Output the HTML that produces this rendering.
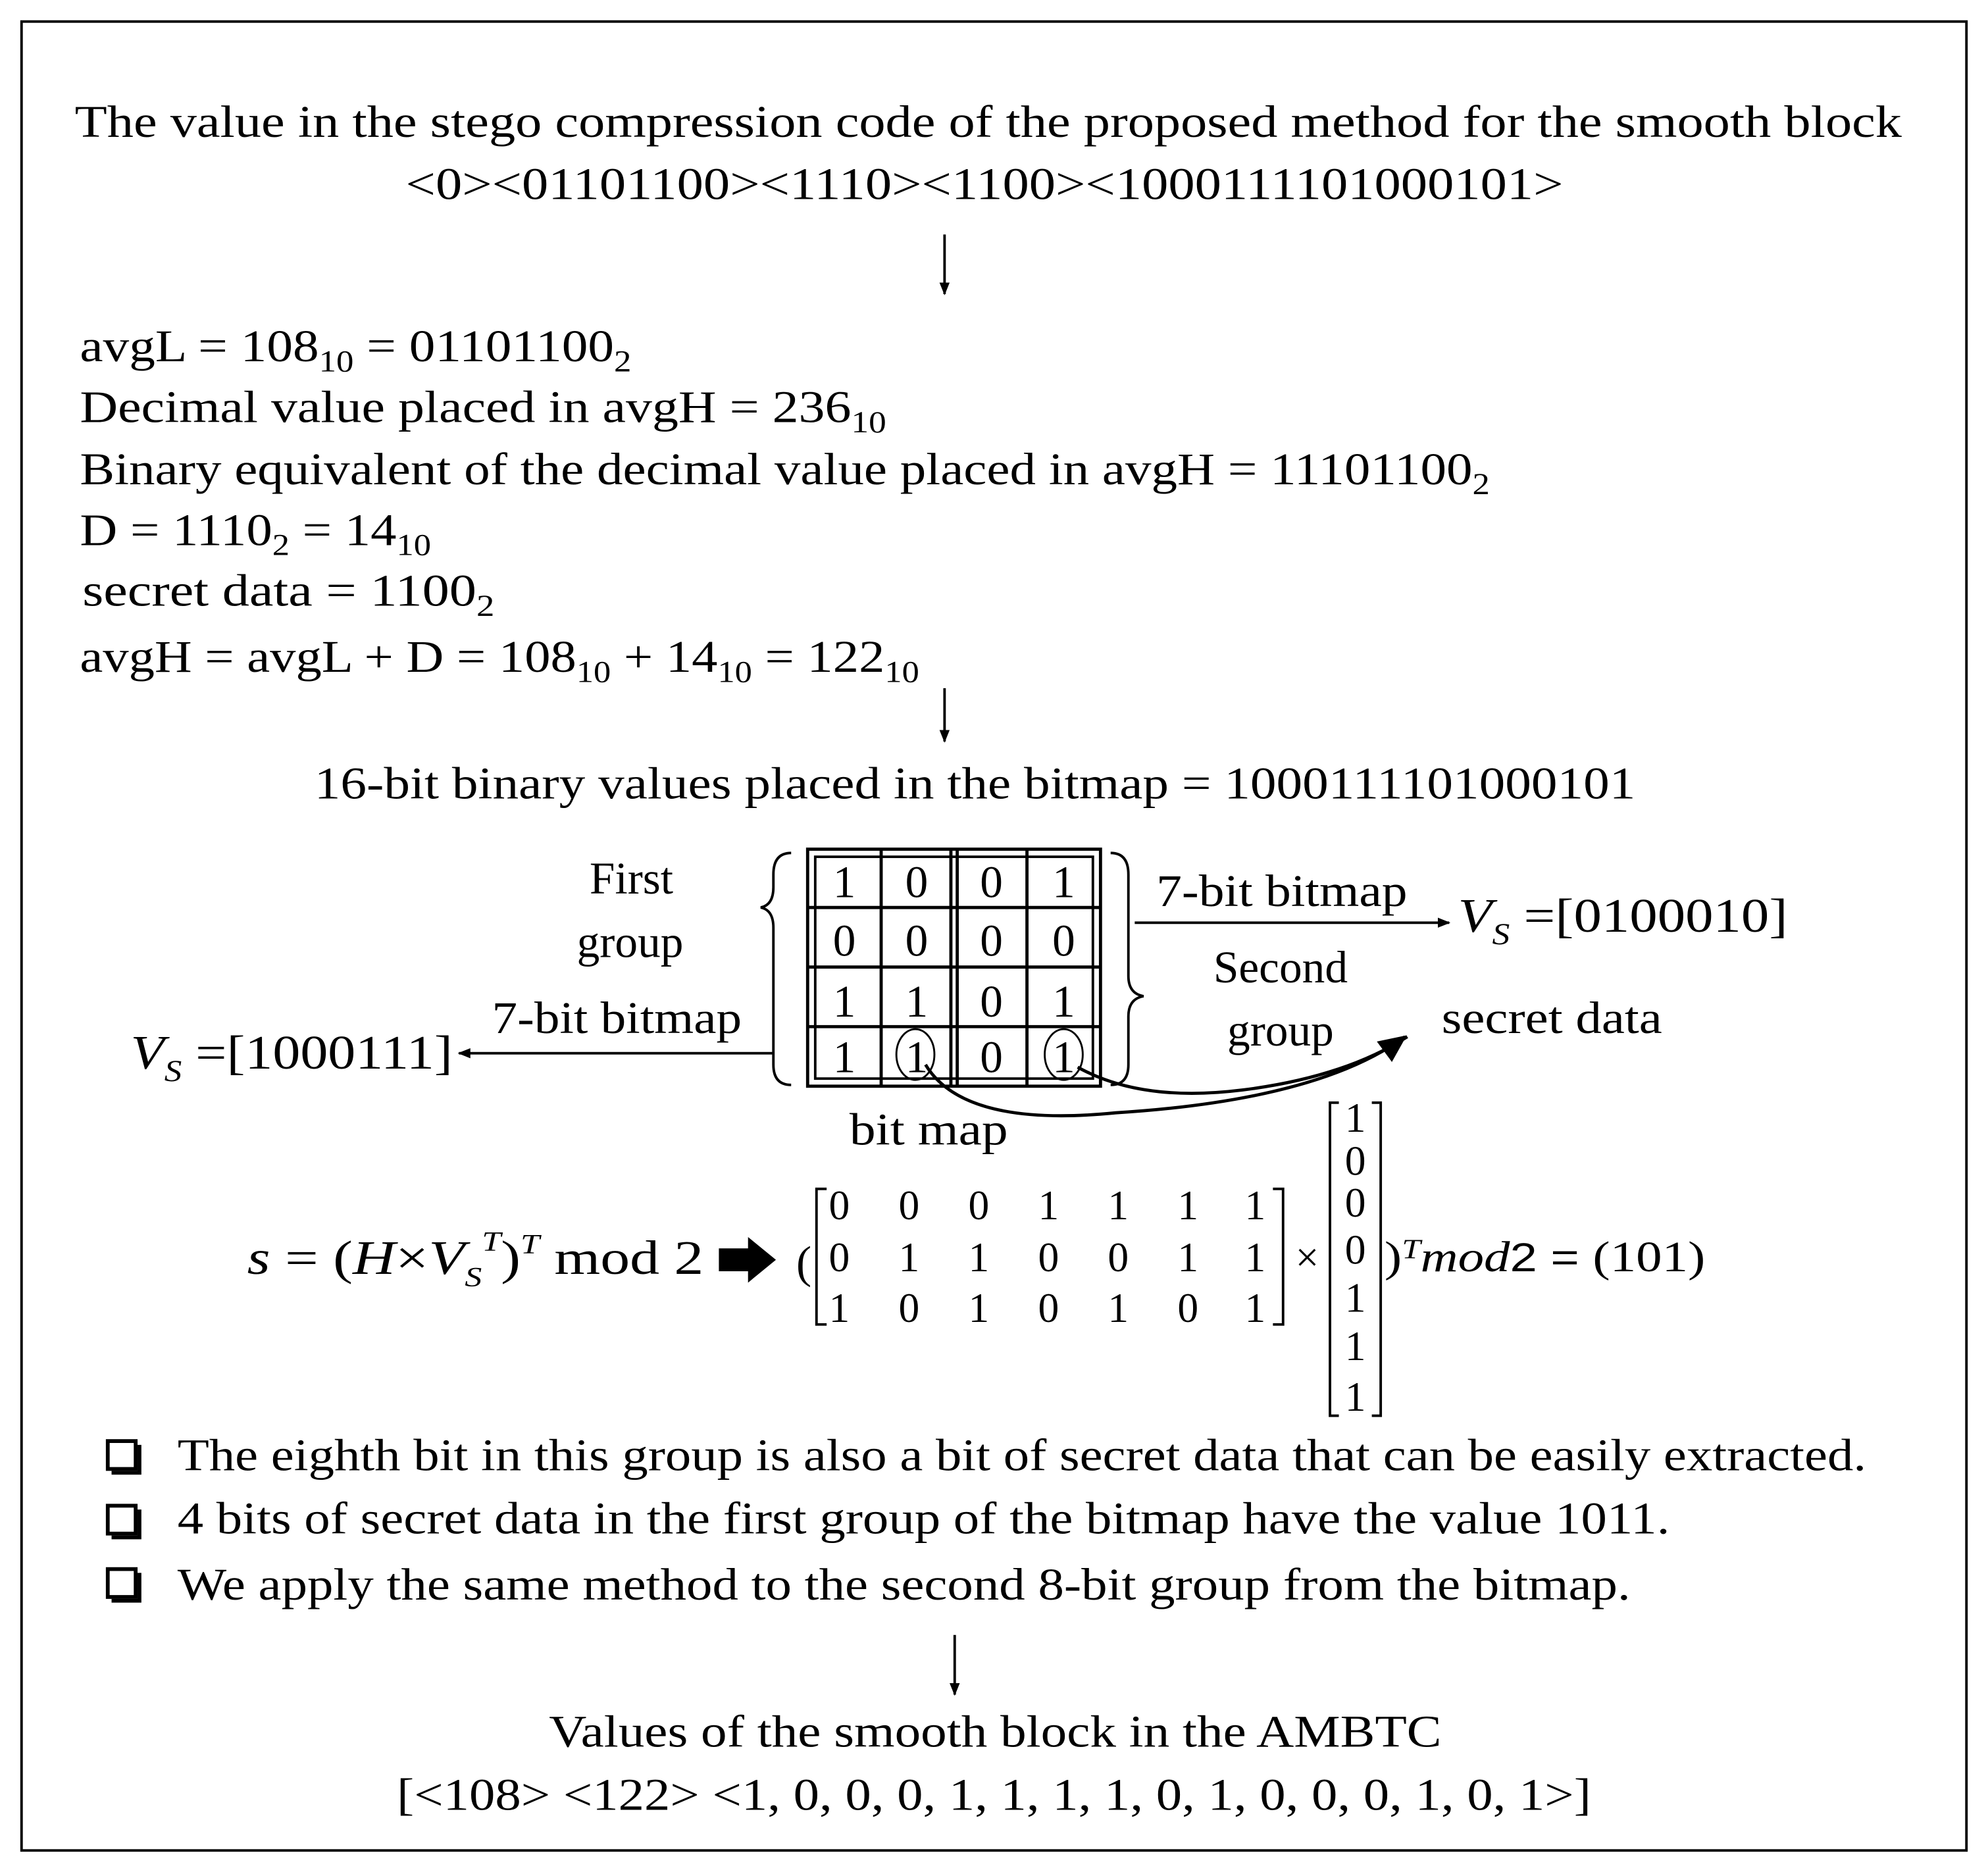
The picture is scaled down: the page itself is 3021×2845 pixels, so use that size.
<!DOCTYPE html>
<html><head><meta charset="utf-8"><style>html,body{margin:0;padding:0;background:#fff}svg{display:block}</style></head><body>
<svg width="3021" height="2845" viewBox="0 0 1568 1477" preserveAspectRatio="none" xmlns="http://www.w3.org/2000/svg" font-family="Liberation Serif, serif" font-size="36" fill="#000">
<defs><marker id="a" markerWidth="10" markerHeight="10" refX="9" refY="5" orient="auto" markerUnits="userSpaceOnUse"><path d="M0,1 L10,5 L0,9 z"/></marker>
<marker id="b" markerWidth="24" markerHeight="24" refX="20" refY="12" orient="auto" markerUnits="userSpaceOnUse"><path d="M0,2 L22,12 L0,22 z"/></marker></defs>
<rect x="17" y="17" width="1534" height="1443" fill="none" stroke="#000" stroke-width="2"/>
<text x="59" y="108" textLength="1441" lengthAdjust="spacingAndGlyphs">The value in the stego compression code of the proposed method for the smooth block</text>
<text x="320" y="157" textLength="913" lengthAdjust="spacingAndGlyphs">&lt;0&gt;&lt;01101100&gt;&lt;1110&gt;&lt;1100&gt;&lt;1000111101000101&gt;</text>
<line x1="745" y1="185" x2="745" y2="232" stroke="#000" stroke-width="2" marker-end="url(#a)"/>
<g font-size="36">
<text x="63" y="285" textLength="435" lengthAdjust="spacingAndGlyphs">avgL = 108<tspan font-size="24" dy="8">10</tspan><tspan dy="-8"> = 01101100</tspan><tspan font-size="24" dy="8">2</tspan></text>
<text x="63" y="333" textLength="636" lengthAdjust="spacingAndGlyphs">Decimal value placed in avgH  = 236<tspan font-size="24" dy="8">10</tspan></text>
<text x="63" y="382" textLength="1112" lengthAdjust="spacingAndGlyphs">Binary equivalent of the decimal value placed in avgH = 11101100<tspan font-size="24" dy="8">2</tspan></text>
<text x="63" y="430" textLength="277" lengthAdjust="spacingAndGlyphs">D = 1110<tspan font-size="24" dy="8">2</tspan><tspan dy="-8"> = 14</tspan><tspan font-size="24" dy="8">10</tspan></text>
<text x="65" y="478" textLength="325" lengthAdjust="spacingAndGlyphs">secret data  = 1100<tspan font-size="24" dy="8">2</tspan></text>
<text x="63" y="530" textLength="662" lengthAdjust="spacingAndGlyphs">avgH = avgL + D = 108<tspan font-size="24" dy="8">10</tspan><tspan dy="-8"> + 14</tspan><tspan font-size="24" dy="8">10</tspan><tspan dy="-8"> = 122</tspan><tspan font-size="24" dy="8">10</tspan></text>
</g>
<line x1="745" y1="543" x2="745" y2="585" stroke="#000" stroke-width="2" marker-end="url(#a)"/>
<text x="248" y="630" textLength="1042" lengthAdjust="spacingAndGlyphs">16-bit binary values placed in the bitmap = 1000111101000101</text>
<g fill="none" stroke="#000" stroke-width="2.5">
<rect x="637" y="670" width="231" height="187"/>
<rect x="643" y="676" width="219" height="175" stroke-width="2"/>
<line x1="695" y1="670" x2="695" y2="857"/><line x1="750" y1="670" x2="750" y2="857"/><line x1="755" y1="670" x2="755" y2="857"/><line x1="810" y1="670" x2="810" y2="857"/>
<line x1="637" y1="716" x2="868" y2="716"/><line x1="637" y1="763" x2="868" y2="763"/><line x1="637" y1="810" x2="868" y2="810"/>
<ellipse cx="722" cy="832" rx="15" ry="20" stroke-width="1.5"/><ellipse cx="839" cy="832" rx="15" ry="20" stroke-width="1.5"/>
<path d="M624,673 Q610,673 610,690 L610,700 Q610,714 600,716 Q610,718 610,732 L610,840 Q610,856 624,856" stroke-width="2"/>
<path d="M876,673 Q890,673 890,690 L890,770 Q890,784 902,786 Q890,788 890,802 L890,840 Q890,856 876,856" stroke-width="2"/>
</g>
<g text-anchor="middle" font-size="36">
<text x="666" y="708">1</text><text x="723" y="708">0</text><text x="782" y="708">0</text><text x="839" y="708">1</text>
<text x="666" y="754">0</text><text x="723" y="754">0</text><text x="782" y="754">0</text><text x="839" y="754">0</text>
<text x="666" y="802">1</text><text x="723" y="802">1</text><text x="782" y="802">0</text><text x="839" y="802">1</text>
<text x="666" y="846">1</text><text x="723" y="846">1</text><text x="782" y="846">0</text><text x="839" y="846">1</text>
<text x="498" y="705">First</text><text x="497" y="755">group</text>
<text x="1010" y="775">Second</text><text x="1010" y="825">group</text>
</g>
<text x="388" y="815" textLength="197" lengthAdjust="spacingAndGlyphs">7-bit bitmap</text>
<line x1="610" y1="831" x2="362" y2="831" stroke="#000" stroke-width="2" marker-end="url(#a)"/>
<text x="103" y="843" font-size="38" textLength="254" lengthAdjust="spacingAndGlyphs"><tspan font-style="italic">V</tspan><tspan font-style="italic" font-size="24" dy="10">S</tspan><tspan dy="-10"> =[1000111]</tspan></text>
<text x="912" y="715" textLength="198" lengthAdjust="spacingAndGlyphs">7-bit bitmap</text>
<line x1="895" y1="728" x2="1143" y2="728" stroke="#000" stroke-width="2" marker-end="url(#a)"/>
<text x="1150" y="735" font-size="38" textLength="260" lengthAdjust="spacingAndGlyphs"><tspan font-style="italic">V</tspan><tspan font-style="italic" font-size="24" dy="10">S</tspan><tspan dy="-10"> =[0100010]</tspan></text>
<text x="1137" y="815" textLength="174" lengthAdjust="spacingAndGlyphs">secret data</text>
<path d="M730,840 Q760,890 880,878 Q1040,868 1108,818" fill="none" stroke="#000" stroke-width="2.5" marker-end="url(#b)"/>
<path d="M850,842 Q900,870 980,860 Q1060,850 1110,818" fill="none" stroke="#000" stroke-width="2.5"/>
<text x="670" y="903" textLength="125" lengthAdjust="spacingAndGlyphs">bit map</text>
<text x="195" y="1005" font-size="38" textLength="360" lengthAdjust="spacingAndGlyphs"><tspan font-style="italic">s</tspan> = (<tspan font-style="italic">H</tspan>×<tspan font-style="italic">V</tspan><tspan font-style="italic" font-size="22" dy="10">S</tspan><tspan font-style="italic" font-size="22" dy="-28">T</tspan><tspan dy="18">)</tspan><tspan font-style="italic" font-size="22" dy="-16">T</tspan><tspan dy="16"> mod  2</tspan></text>
<path d="M567,985 L590,985 L590,976 L612,994 L590,1012 L590,1003 L567,1003 z"/>
<text x="628" y="1008" font-size="36">(</text>
<path d="M652,938 L644,938 L644,1045 L652,1045 M1004,938 L1012,938 L1012,1045 L1004,1045" fill="none" stroke="#000" stroke-width="2"/>
<g text-anchor="middle" font-size="33">
<text x="662" y="962">0</text><text x="717" y="962">0</text><text x="772" y="962">0</text><text x="827" y="962">1</text><text x="882" y="962">1</text><text x="937" y="962">1</text><text x="990" y="962">1</text>
<text x="662" y="1003">0</text><text x="717" y="1003">1</text><text x="772" y="1003">1</text><text x="827" y="1003">0</text><text x="882" y="1003">0</text><text x="937" y="1003">1</text><text x="990" y="1003">1</text>
<text x="662" y="1043">1</text><text x="717" y="1043">0</text><text x="772" y="1043">1</text><text x="827" y="1043">0</text><text x="882" y="1043">1</text><text x="937" y="1043">0</text><text x="990" y="1043">1</text>
<text x="1031" y="1003">×</text>
<text x="1069" y="893">1</text><text x="1069" y="927">0</text><text x="1069" y="960">0</text><text x="1069" y="997">0</text><text x="1069" y="1035">1</text><text x="1069" y="1073">1</text><text x="1069" y="1113">1</text>
</g>
<path d="M1056,870 L1049,870 L1049,1117 L1056,1117 M1082,870 L1089,870 L1089,1117 L1082,1117" fill="none" stroke="#000" stroke-width="2"/>
<text x="1092" y="1003" font-size="34" textLength="253" lengthAdjust="spacingAndGlyphs">)<tspan font-style="italic" font-size="22" dy="-10">T</tspan><tspan font-style="italic" dy="10">mod</tspan><tspan font-family="Liberation Sans, sans-serif" font-size="32">2 = </tspan>(101)</text>
<g fill="none" stroke="#000" stroke-width="3"><rect x="85" y="1137" width="22" height="22"/><rect x="85" y="1188" width="22" height="22"/><rect x="85" y="1238" width="22" height="22"/></g>
<path d="M88,1162 L110,1162 L110,1140 M88,1213 L110,1213 L110,1191 M88,1263 L110,1263 L110,1241" fill="none" stroke="#000" stroke-width="3"/>
<text x="140" y="1160" textLength="1332" lengthAdjust="spacingAndGlyphs">The eighth bit in this group is also a bit of secret data that can be easily extracted.</text>
<text x="140" y="1210" textLength="1177" lengthAdjust="spacingAndGlyphs">4 bits of secret data in the first group of the bitmap have the value 1011.</text>
<text x="140" y="1262" textLength="1146" lengthAdjust="spacingAndGlyphs">We apply the same method to the second 8-bit group from the bitmap.</text>
<line x1="753" y1="1290" x2="753" y2="1337" stroke="#000" stroke-width="2" marker-end="url(#a)"/>
<text x="433" y="1378" textLength="704" lengthAdjust="spacingAndGlyphs">Values of the smooth block in the AMBTC</text>
<text x="313" y="1428" textLength="942" lengthAdjust="spacingAndGlyphs">[&lt;108&gt; &lt;122&gt; &lt;1, 0, 0, 0, 1, 1, 1, 1, 0, 1, 0, 0, 0, 1, 0, 1&gt;]</text>
</svg>
</body></html>
